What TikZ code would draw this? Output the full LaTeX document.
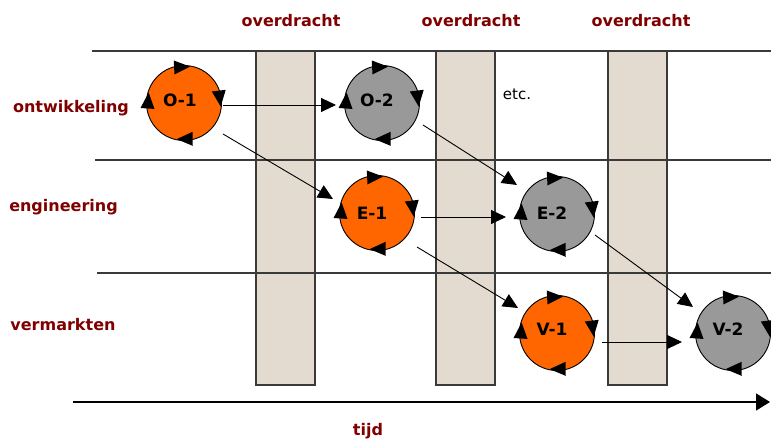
\documentclass[tikz,border=0pt]{standalone}
\usepackage{fontspec}
\setmainfont{DejaVu Sans}
\usetikzlibrary{arrows.meta,calc}

\definecolor{lanegray}{HTML}{3A3A3A}
\definecolor{barfill}{HTML}{E3DAD0}
\definecolor{phaseorange}{HTML}{FF6600}
\definecolor{phasegray}{HTML}{999999}
\definecolor{labelred}{HTML}{800000}

\tikzset{
  lane/.style={draw=lanegray, line width=1.6pt},
  handover/.style={draw=lanegray, fill=barfill, line width=1.4pt},
  phase/.style={circle, draw=black, line width=0.9pt, minimum size=75pt, inner sep=0pt},
  phasetext/.style={font=\bfseries\fontsize{17}{20}\selectfont},
  rowlabel/.style={font=\bfseries\fontsize{16}{19}\selectfont, text=labelred, anchor=base},
  conn/.style={-{Triangle[length=15pt,width=14pt]}, line width=0.9pt},
  timeaxis/.style={-{Triangle[length=14pt,width=17pt]}, line width=1.4pt},
}

% four clockwise arrowheads sitting on the rim of a phase circle
\newcommand\cycletips[1]{%
  \foreach \a in {93,7,-89,176}{%
    \fill[black] ($(#1)+(\a:36)+(\a-90:8)$)
      -- ($(#1)+(\a:36)+(\a+90:8)+(\a:7)$)
      -- ($(#1)+(\a:36)+(\a+90:8)+(\a+180:7)$) -- cycle;
  }%
}

\begin{document}
\begin{tikzpicture}[x=1pt,y=1pt]
\useasboundingbox (0,0) rectangle (771,441);

% handover columns
\draw[handover] (256,56) rectangle (315,390);
\draw[handover] (436,56) rectangle (495,390);
\draw[handover] (608,56) rectangle (667,390);

% swimlane separators
\draw[lane] (92,390) -- (771,390);
\draw[lane] (95,281) -- (771,281);
\draw[lane] (97,168) -- (771,168);

% headings
\node[rowlabel] (hd1) at (291,414) {overdracht};
\node[rowlabel] (hd2) at (471,414) {overdracht};
\node[rowlabel] (hd3) at (641,414) {overdracht};

\node[rowlabel] (lnO) at (71,328) {ontwikkeling};
\node[rowlabel] (lnE) at (63.5,229) {engineering};
\node[rowlabel] (lnV) at (63,110) {vermarkten};

\node[font=\fontsize{15}{18}\selectfont, anchor=base] (etc) at (517,341) {etc.};

% phases
\node[phase, fill=phaseorange] (O1) at (184,338) {};
\node[phase, fill=phasegray]   (O2) at (382,338) {};
\node[phase, fill=phaseorange] (E1) at (377,228) {};
\node[phase, fill=phasegray]   (E2) at (557,227) {};
\node[phase, fill=phaseorange] (V1) at (557,108) {};
\node[phase, fill=phasegray]   (V2) at (733,108) {};

\foreach \n in {O1,O2,E1,E2,V1,V2}{\cycletips{\n}}

\node[phasetext] (O1t) at ($(O1)+(-4,3)$) {O-1};
\node[phasetext] (O2t) at ($(O2)+(-5,3)$) {O-2};
\node[phasetext] (E1t) at ($(E1)+(-5,0)$) {E-1};
\node[phasetext] (E2t) at ($(E2)+(-5,1)$) {E-2};
\node[phasetext] (V1t) at ($(V1)+(-5,4)$) {V-1};
\node[phasetext] (V2t) at ($(V2)+(-5,4)$) {V-2};

% hand-offs between phases
\draw[conn] ($(O1)+(39,-2)$)  -- ($(O2)+(-46,-2)$);
\draw[conn] ($(O1)+(39,-31)$) -- ($(E1)+(-44,14)$);
\draw[conn] ($(O2)+(41,-22)$) -- ($(E2)+(-40,29)$);
\draw[conn] ($(E1)+(44,-4)$)  -- ($(E2)+(-51,-3)$);
\draw[conn] ($(E1)+(40,-34)$) -- ($(V1)+(-39,25)$);
\draw[conn] ($(E2)+(38,-21)$) -- ($(V2)+(-40,26)$);
\draw[conn] ($(V1)+(45,-9)$)  -- ($(V2)+(-51,-9)$);

% time axis
\coordinate (tStart) at (73,39);
\coordinate (tEnd) at (770,39);
\draw[timeaxis] (tStart) -- (tEnd);
\node[rowlabel] (tijd) at (368,5) {tijd};
\end{tikzpicture}
\end{document}
